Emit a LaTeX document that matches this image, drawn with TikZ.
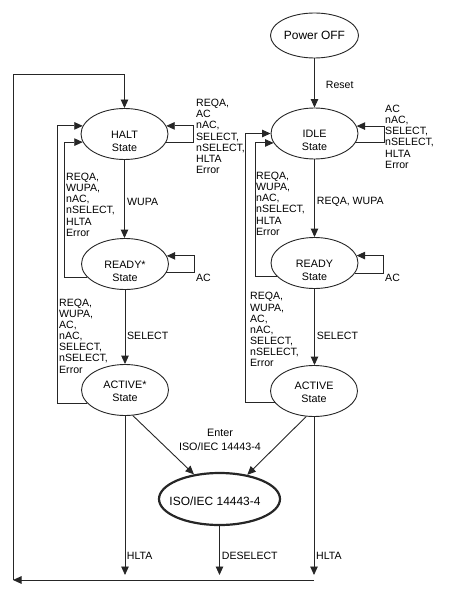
\documentclass[tikz,border=0pt]{standalone}
\usepackage{fontspec}
\setmainfont{Liberation Sans}
\usetikzlibrary{shapes.geometric,arrows.meta}
\begin{document}
\begin{tikzpicture}[x=1bp,y=-1bp,
  line/.style={draw=black!85,line width=0.9bp},
  arr/.style={line,-{Triangle[length=8.5bp,width=7.5bp]}},
  state/.style={ellipse,draw=black!85,line width=0.9bp,minimum width=87bp,minimum height=51bp,inner sep=0pt,align=center,font=\fontsize{10.8}{13}\selectfont},
  lbl/.style={anchor=west,inner sep=0pt,align=left,font=\fontsize{10.6}{11.2}\selectfont},
]
\useasboundingbox (0,0) rectangle (455,599);

% states
\node[state,minimum width=88bp,minimum height=45bp,font=\fontsize{12}{14}\selectfont] (off) at (314.5,35.5) {Power OFF};
\node[state] (halt) at (124.5,134) {\rule{0pt}{22bp}HALT\\State};
\node[state] (idle) at (314.5,133.5) {\rule{0pt}{22bp}IDLE\\State};
\node[state] (readyS) at (125,264) {\rule{0pt}{22bp}READY*\\State};
\node[state] (ready) at (314.5,263) {\rule{0pt}{22bp}READY\\State};
\node[state] (activeS) at (125,390) {\rule{0pt}{11bp}ACTIVE*\\State};
\node[state] (active) at (314,391) {\rule{0pt}{11bp}ACTIVE\\State};
\node[state,minimum width=121bp,minimum height=52bp,line width=2.2bp,font=\fontsize{12}{14}\selectfont] (iso) at (219.5,499) {\rule{0pt}{14bp}\makebox[60bp][c]{\hspace*{-9bp}ISO/IEC 14443-4}};

% helper coordinates
\coordinate (hr) at (193,0);
\coordinate (rsr) at (194,0);
\coordinate (ir) at (384,0);
\coordinate (rr) at (383,0);
\coordinate (lo) at (57,0);
\coordinate (li) at (64.5,0);
\coordinate (ro) at (245.7,0);
\coordinate (ri) at (255,0);
\coordinate (bl) at (13,580);
\coordinate (tl) at (13,74);
\coordinate (bend) at (0,575);

% main vertical transitions
\draw[arr] (off.south) -- (off.south |- idle.north);
\draw[arr] (halt.south) -- (halt.south |- readyS.north);
\draw[arr] (readyS.south) -- (readyS.south |- activeS.north);
\draw[arr] (idle.south) -- (idle.south |- ready.north);
\draw[arr] (ready.south) -- (ready.south |- active.north);

% self loops
\draw[arr] (halt.-11) -- (halt.-11 -| hr) -- (halt.11 -| hr) -- (halt.11);
\draw[arr] (readyS.-12) -- (readyS.-12 -| rsr) -- (readyS.11 -| rsr) -- (readyS.11);
\draw[arr] (idle.-13) -- (idle.-13 -| ir) -- (idle.10 -| ir) -- (idle.10);
\draw[arr] (ready.-14) -- (ready.-14 -| rr) -- (ready.10 -| rr) -- (ready.10);

% return loops
\draw[arr] (activeS.199) -- (activeS.199 -| lo) -- (halt.169 -| lo) -- (halt.169);
\draw[arr] (readyS.199) -- (readyS.199 -| li) -- (halt.191 -| li) -- (halt.191);
\draw[arr] (active.197) -- (active.197 -| ro) -- (idle.180 -| ro) -- (idle.180);
\draw[arr] (ready.199) -- (ready.199 -| ri) -- (idle.193 -| ri) -- (idle.193);

% to ISO/IEC 14443-4
\draw[arr] (activeS.-73) -- (iso.136);
\draw[arr] (active.-107) -- (iso.41);

% bottom
\draw[arr] (activeS.south) -- (activeS.south |- bend);
\draw[arr] (iso.south) -- (iso.south |- bend);
\draw[arr] (active.south) -- (active.south |- bend);
\draw[arr] (active.south |- bl) -- (bl);
\draw[arr] (bl) -- (tl) -- (tl -| halt.north) -- (halt.north);

% labels
\node[lbl] (l1) at (196,136.5) {REQA,\\AC\\nAC,\\SELECT,\\nSELECT,\\HLTA\\Error};
\node[lbl] (l2) at (66,204.7) {REQA,\\WUPA,\\nAC,\\nSELECT,\\HLTA\\Error};
\node[lbl] (l3) at (127,202) {WUPA};
\node[lbl] (l4) at (59,336) {REQA,\\WUPA,\\AC,\\nAC,\\SELECT,\\nSELECT,\\Error};
\node[lbl] (l5) at (127,336) {SELECT};
\node[lbl] (l6) at (196,278) {AC};
\node[lbl] (l7) at (385,136.7) {AC\\nAC,\\SELECT,\\nSELECT,\\HLTA\\Error};
\node[lbl] (l8) at (325.7,85) {Reset};
\node[lbl] (l9) at (256,203.7) {REQA,\\WUPA,\\nAC,\\nSELECT,\\HLTA\\Error};
\node[lbl] (l10) at (316.7,201.7) {REQA, WUPA};
\node[lbl] (l11) at (250,329.7) {REQA,\\WUPA,\\AC,\\nAC,\\SELECT,\\nSELECT,\\Error};
\node[lbl] (l12) at (316.7,336) {SELECT};
\node[lbl] (l13) at (385,278) {AC};
\node[lbl,anchor=center,align=center,font=\fontsize{10.8}{14}\selectfont] (l14) at (220,439.7) {Enter\\ISO/IEC 14443-4};
\node[lbl] (l15) at (126.7,556) {HLTA};
\node[lbl] (l16) at (221.7,556) {DESELECT};
\node[lbl] (l17) at (316,556) {HLTA};
\end{tikzpicture}
\end{document}
